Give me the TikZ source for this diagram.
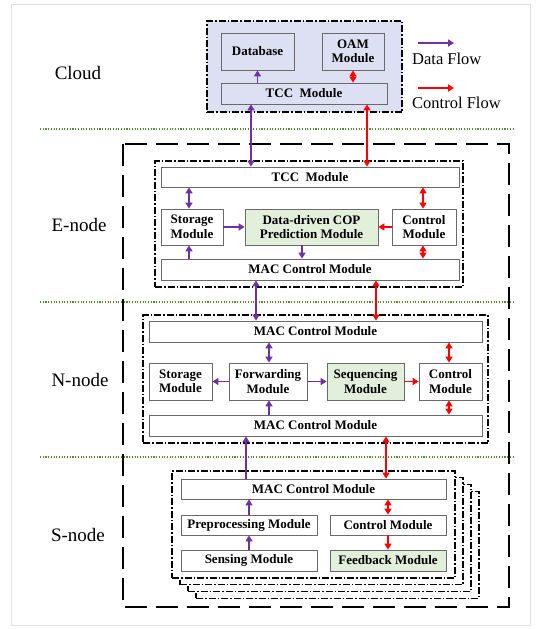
\documentclass[tikz,border=0pt]{standalone}
\usepackage{fontspec}
\setmainfont{Liberation Serif}
\usetikzlibrary{arrows.meta,positioning,calc}
\definecolor{frame}{RGB}{105,105,105}
\definecolor{cData}{RGB}{112,48,160}
\definecolor{cCtrl}{RGB}{255,0,0}
\definecolor{cSep}{RGB}{80,140,45}
\definecolor{cloudbg}{RGB}{220,224,242}
\definecolor{keybg}{RGB}{226,239,218}
\tikzset{
  mod/.style={draw=frame,line width=0.8pt,fill=white,inner sep=1pt,align=center,
    font=\fontsize{13}{14.5}\selectfont\bfseries},
  key/.style={mod,fill=keybg},
  wh/.style 2 args={minimum width=#1pt,minimum height=#2pt},
  grp/.style={draw=black,line width=1.1pt,dash pattern=on 7pt off 2pt on 1.5pt off 2pt},
  df/.style={draw=cData,line width=1.8pt},
  cf/.style={draw=cCtrl,line width=1.8pt},
  tier/.style={font=\fontsize{19}{22}\selectfont},
  legend/.style={font=\fontsize{16.5}{18}\selectfont,anchor=west,inner sep=0pt},
  sep/.style={draw=cSep,line width=1.1pt,dash pattern=on 1.1pt off 1.6pt},
}

\begin{document}
\begin{tikzpicture}[x=1pt,y=-1pt,>={Triangle[length=6pt,width=7pt]}]
  \useasboundingbox (0,0) rectangle (554,629);
  \draw[black!12,line width=0.8pt] (11,4) rectangle (530,625);

  % tiers and separators
  \node[tier] (tCloud) at (78,73)  {Cloud};
  \node[tier] (tE)     at (79,225) {E-node};
  \node[tier] (tN)     at (80,380) {N-node};
  \node[tier] (tS)     at (78,535) {S-node};
  \draw[sep] (40,129) -- (513,129);
  \draw[sep] (40,302) -- (513,302);
  \draw[sep] (40,457) -- (513,457);
  \draw[line width=1.9pt,dash pattern=on 22pt off 9pt] (123,144) rectangle (509,607);

  % legend
  \coordinate (dfA) at (418,43);  \coordinate (dfB) at (454,43);
  \coordinate (cfA) at (418,88);  \coordinate (cfB) at (454,88);
  \draw[df,->] (dfA) -- (dfB);
  \draw[cf,->] (cfA) -- (cfB);
  \node[legend] (dfL) at (412,59)  {Data Flow};
  \node[legend] (cfL) at (412,103) {Control Flow};

  % cloud
  \node[grp,fill=cloudbg,wh={195}{91}] (cloud) at (304.5,66.5) {};
  \node[mod,fill=cloudbg,wh={73}{37}]  (db)   at (257.5,51.5) {Database};
  \node[mod,fill=cloudbg,wh={62}{37}]  (oam)  at (353,51.5)   {OAM\\Module};
  \node[mod,fill=cloudbg,wh={166}{21}] (tccC) at (304,93.5)   {TCC\ \ Module};
  \draw[df,->]  (tccC.north -| db.south) -- (db.south);
  \draw[cf,<->] (oam.south) -- (oam.south |- tccC.north);

  % E-node
  \node[grp,wh={308}{126}] (egrp) at (309,224) {};
  \node[mod,wh={298}{20}] (tccE)  at (310,177)   {TCC\ \ Module};
  \node[mod,wh={62}{36}]  (storE) at (192,227)   {Storage\\Module};
  \node[key,wh={133}{36}] (predE) at (311.5,227) {Data-driven COP\\Prediction Module};
  \node[mod,wh={64}{36}]  (ctrlE) at (424,227)   {Control\\Module};
  \node[mod,wh={298}{21}] (macE)  at (310,269.5) {MAC Control Module};
  \coordinate (xS) at (189,0); \coordinate (xP) at (302,0); \coordinate (xC) at (423,0);
  \draw[df,<->] (tccE.south -| xS) -- (storE.north -| xS);
  \draw[df,->]  (macE.north -| xS) -- (storE.south -| xS);
  \draw[df,->]  (storE) -- (predE);
  \draw[cf,->]  (ctrlE) -- (predE);
  \draw[df,->]  (predE.south -| xP) -- (macE.north -| xP);
  \draw[cf,<->] (tccE.south -| xC) -- (ctrlE.north -| xC);
  \draw[cf,<->] (ctrlE.south -| xC) -- (macE.north -| xC);

  % cloud <-> E-node
  \coordinate (xd1) at (251,0); \coordinate (xc1) at (367,0);
  \draw[df,line width=1.3pt,<->] (tccC.south -| xd1) -- (tccE.north -| xd1);
  \draw[cf,line width=1.3pt,<->] (tccC.south -| xc1) -- (tccE.north -| xc1);

  % N-node
  \node[grp,wh={345}{128}] (ngrp) at (315.5,379) {};
  \node[mod,wh={333}{21}] (macN1) at (315.5,331.5) {MAC Control Module};
  \node[mod,wh={63}{37}]  (storN) at (180.5,381.5) {Storage\\Module};
  \node[mod,wh={78}{37}]  (fwdN)  at (268,381.5)   {Forwarding\\Module};
  \node[key,wh={77}{37}]  (seqN)  at (365.5,381.5) {Sequencing\\Module};
  \node[mod,wh={63}{37}]  (ctrlN) at (450.5,381.5) {Control\\Module};
  \node[mod,wh={333}{21}] (macN2) at (315.5,425.5) {MAC Control Module};
  \coordinate (xF) at (269,0); \coordinate (xK) at (449,0);
  \draw[df,<->] (macN1.south -| xF) -- (fwdN.north -| xF);
  \draw[df,->]  (macN2.north -| xF) -- (fwdN.south -| xF);
  \draw[df,->]  (fwdN) -- (storN);
  \draw[df,->]  (fwdN) -- (seqN);
  \draw[cf,->]  (seqN) -- (ctrlN);
  \draw[cf,<->] (macN1.south -| xK) -- (ctrlN.north -| xK);
  \draw[cf,<->] (ctrlN.south -| xK) -- (macN2.north -| xK);

  % E-node <-> N-node
  \coordinate (xd2) at (256,0); \coordinate (xc2) at (376,0);
  \draw[df,line width=1.3pt,<->] (macE.south -| xd2) -- (macN1.north -| xd2);
  \draw[cf,line width=1.3pt,<->] (macE.south -| xc2) -- (macN1.north -| xc2);

  % S-node (stacked)
  \foreach \k in {3,2,1}
    \node[grp,fill=white,wh={283}{107}] (sgrp\k) at (313.5+8*\k,524.5+6.7*\k) {};
  \node[grp,fill=white,wh={283}{107}] (sgrp) at (313.5,524.5) {};
  \node[mod,wh={265}{20}] (macS)  at (313.5,489) {MAC Control Module};
  \node[mod,wh={136}{20}] (preS)  at (249,525)   {Preprocessing Module};
  \node[mod,wh={116}{20}] (ctrlS) at (388,525)   {Control Module};
  \node[mod,wh={136}{21}] (sensS) at (249,560.5) {Sensing Module};
  \node[key,wh={116}{21}] (fbS)   at (388,560.5) {Feedback Module};
  \draw[df,->]  (sensS) -- (preS);
  \draw[df,->]  (preS) -- (macS.south -| preS.north);
  \draw[cf,<->] (macS.south -| ctrlS.north) -- (ctrlS);
  \draw[cf,->]  (ctrlS) -- (fbS);

  % N-node <-> S-node
  \coordinate (xd3) at (246,0); \coordinate (xc3) at (386,0);
  \draw[df,line width=1.3pt,->]  (macS.north -| xd3) -- (macN2.south -| xd3);
  \draw[cf,line width=1.3pt,<->] (macN2.south -| xc3) -- (macS.north -| xc3);
\end{tikzpicture}
\end{document}
